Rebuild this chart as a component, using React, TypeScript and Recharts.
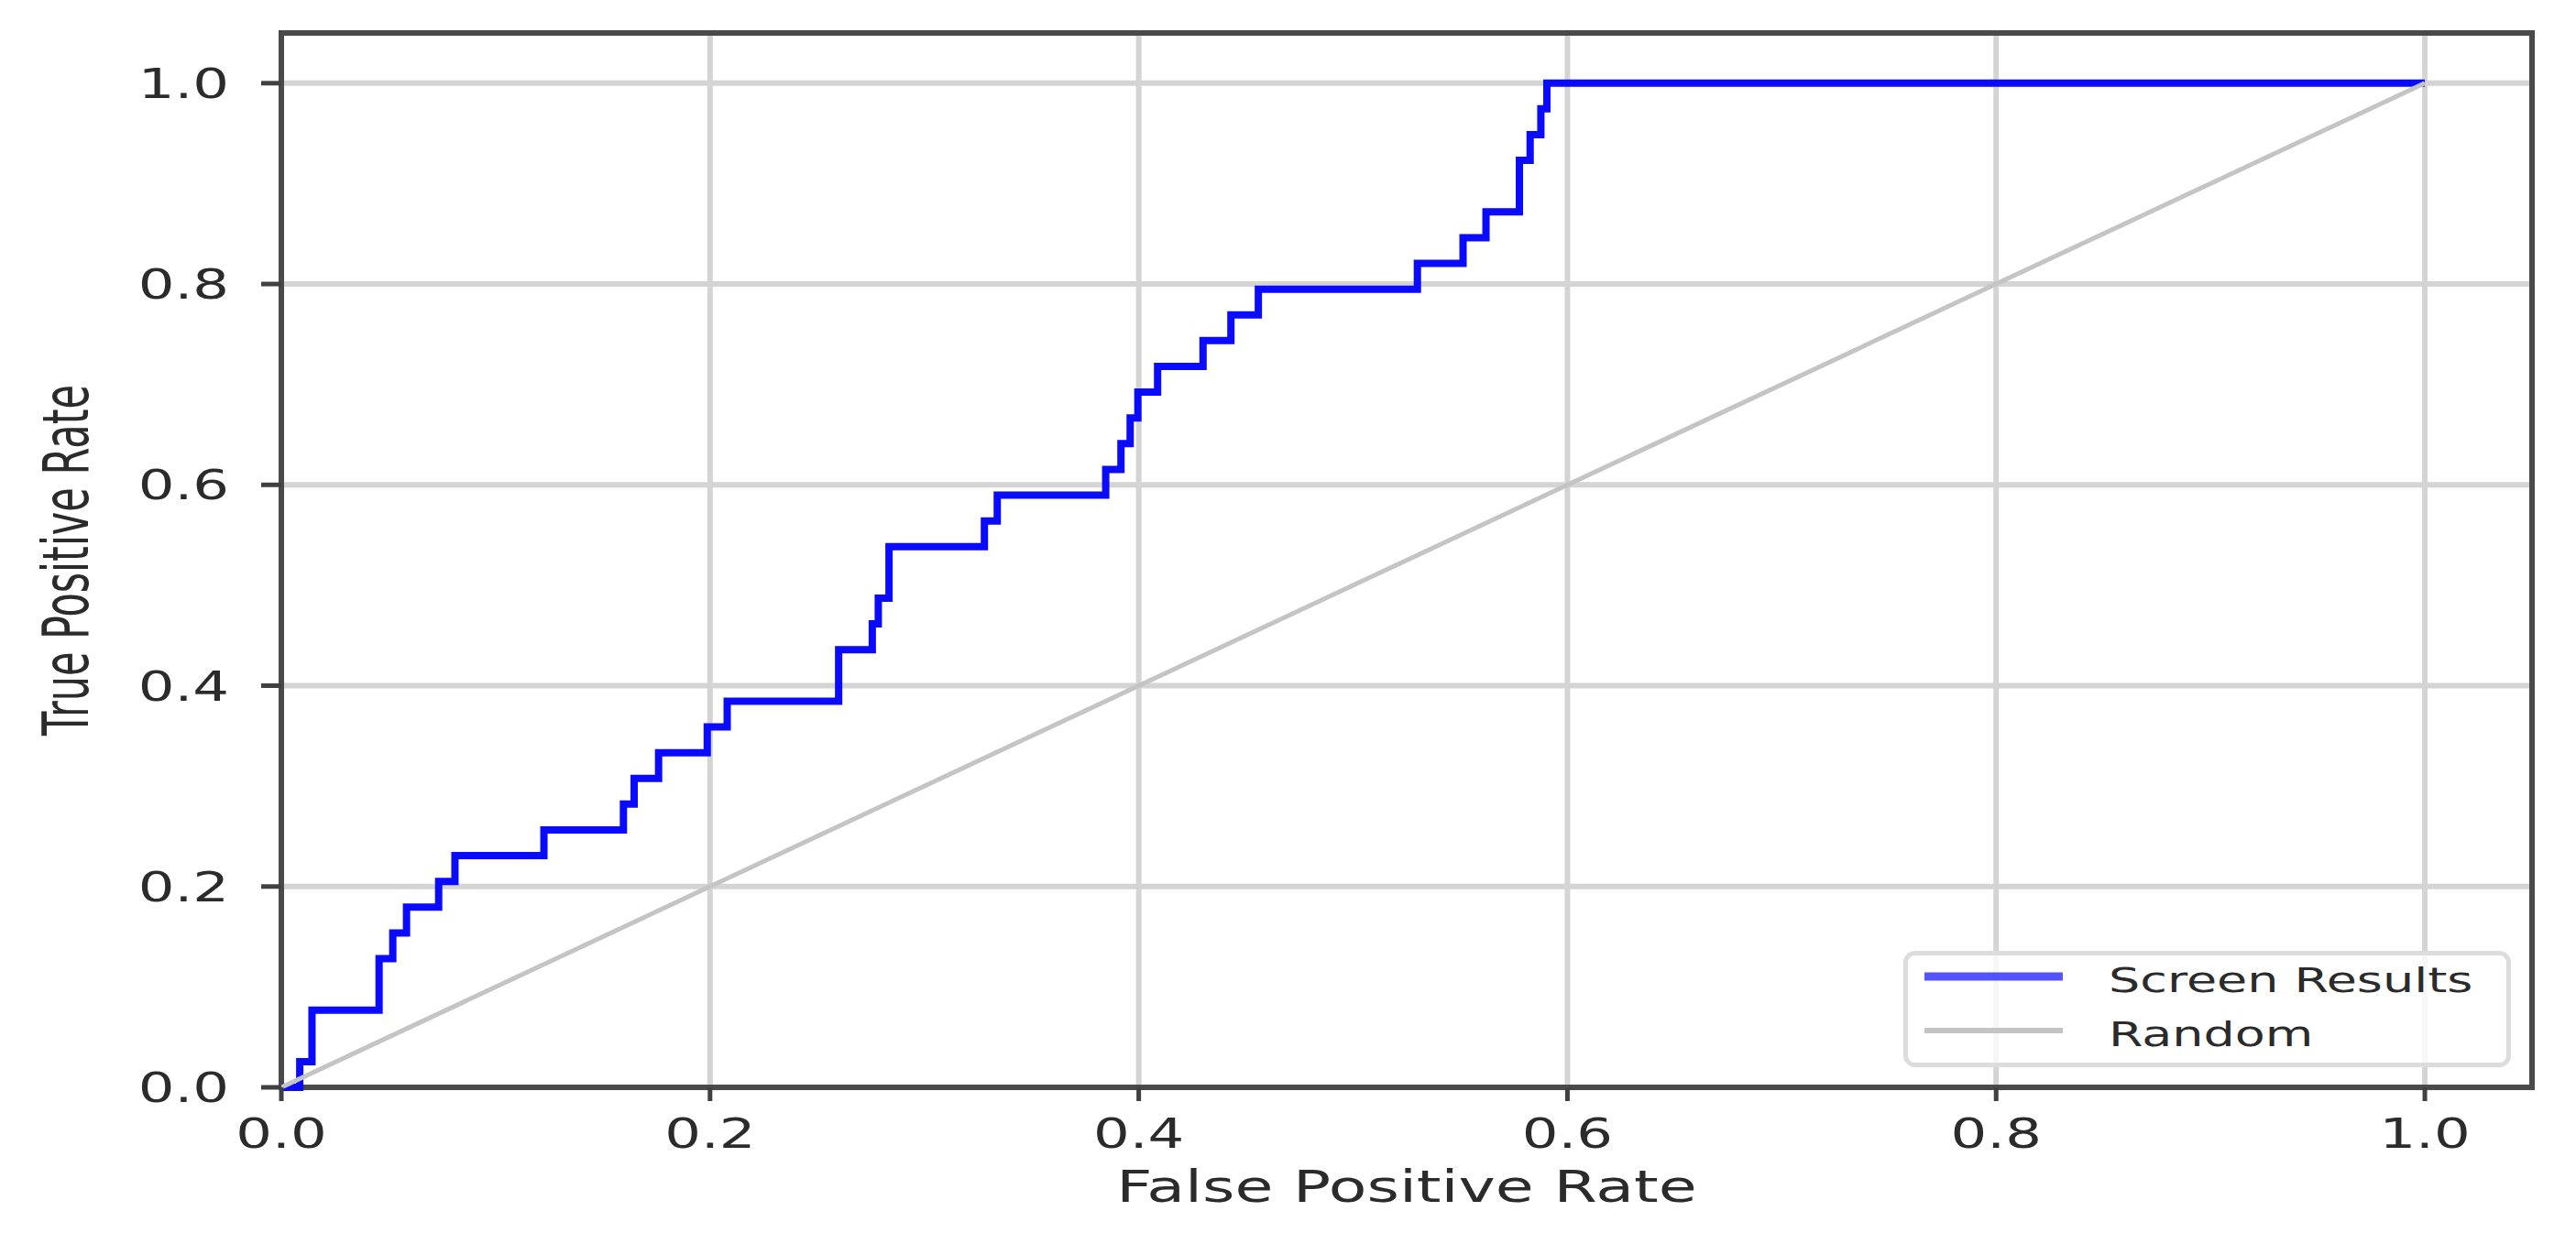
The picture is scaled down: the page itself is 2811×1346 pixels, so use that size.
import {
  CartesianGrid,
  Legend,
  Line,
  LineChart,
  ReferenceArea,
  XAxis,
  YAxis,
} from "recharts";

// ROC curve vertices (false positive rate / true positive rate)
const fprValues = [
  0, 0.0086, 0.0086, 0.0143, 0.0143, 0.0456, 0.0456, 0.052, 0.052, 0.0584,
  0.0584, 0.0734, 0.0734, 0.081, 0.081, 0.1225, 0.1225, 0.1596, 0.1596,
  0.1646, 0.1646, 0.176, 0.176, 0.1987, 0.1987, 0.208, 0.208, 0.26, 0.26,
  0.2757, 0.2757, 0.2785, 0.2785, 0.2835, 0.2835, 0.328, 0.328, 0.334, 0.334,
  0.3846, 0.3846, 0.3917, 0.3917, 0.396, 0.396, 0.3996, 0.3996, 0.4088,
  0.4088, 0.43, 0.43, 0.443, 0.443, 0.4558, 0.4558, 0.53, 0.53, 0.5513,
  0.5513, 0.562, 0.562, 0.5776, 0.5776, 0.5826, 0.5826, 0.5876, 0.5876,
  0.5904, 0.5904, 1.0,
];
const tprValues = [
  0, 0, 0.0256, 0.0256, 0.0769, 0.0769, 0.1282, 0.1282, 0.1538, 0.1538,
  0.1795, 0.1795, 0.2051, 0.2051, 0.2308, 0.2308, 0.2564, 0.2564, 0.2821,
  0.2821, 0.3077, 0.3077, 0.3333, 0.3333, 0.359, 0.359, 0.3846, 0.3846,
  0.4359, 0.4359, 0.4615, 0.4615, 0.4872, 0.4872, 0.5385, 0.5385, 0.5641,
  0.5641, 0.5897, 0.5897, 0.6154, 0.6154, 0.641, 0.641, 0.6667, 0.6667,
  0.6923, 0.6923, 0.7179, 0.7179, 0.7436, 0.7436, 0.7692, 0.7692, 0.7949,
  0.7949, 0.8205, 0.8205, 0.8462, 0.8462, 0.8718, 0.8718, 0.9231, 0.9231,
  0.9487, 0.9487, 0.9744, 0.9744, 1.0, 1.0,
];

// chance diagonal
const randomFpr = [0, 1];
const randomTpr = [0, 1];

const axisTicks = [0, 0.2, 0.4, 0.6, 0.8, 1.0];
const seriesNames = ["Screen Results", "Random"];

const rocData = fprValues.map((fpr, i) => ({ fpr, tpr: tprValues[i] }));
const randomData = randomFpr.map((fpr, i) => ({ fpr, tpr: randomTpr[i] }));

const FONT = "'DejaVu Sans', sans-serif";
const TEXT = "#2b2b2b";
const SX = 1.42; // the picture is stretched sideways
const SPINE = "#4a4a4a";

function XTick(props: any) {
  const { x, y, payload } = props;
  return (
    <text
      transform={`translate(${x},${y + 51}) scale(${SX},1)`}
      textAnchor="middle"
      fontSize={44}
      fontFamily={FONT}
      fill={TEXT}
    >
      {Number(payload.value).toFixed(1)}
    </text>
  );
}

function YTick(props: any) {
  const { x, y, payload } = props;
  return (
    <text
      transform={`translate(${x - 35},${y + 16}) scale(${SX},1)`}
      textAnchor="end"
      fontSize={44}
      fontFamily={FONT}
      fill={TEXT}
    >
      {Number(payload.value).toFixed(1)}
    </text>
  );
}

function XTitle(props: any) {
  const vb = props.viewBox ?? { x: 307, y: 1187, width: 2456, height: 159 };
  return (
    <text
      transform={`translate(${vb.x + vb.width / 2},${vb.y + 125}) scale(${SX},1)`}
      textAnchor="middle"
      fontSize={48}
      fontFamily={FONT}
      fill={TEXT}
    >
      False Positive Rate
    </text>
  );
}

function YTitle(props: any) {
  const vb = props.viewBox ?? { x: 0, y: 36, width: 307, height: 1151 };
  return (
    <text
      transform={`translate(72,${vb.y + vb.height / 2}) scale(1.6,1) rotate(-90)`}
      textAnchor="middle"
      dy={15}
      fontSize={43}
      fontFamily={FONT}
      fill={TEXT}
    >
      True Positive Rate
    </text>
  );
}

function LegendBox(props: any) {
  const items = [...(props.payload ?? [])].sort(
    (a: any, b: any) => seriesNames.indexOf(a.value) - seriesNames.indexOf(b.value),
  );
  return (
    <svg width={663} height={127} style={{ display: "block" }}>
      <rect
        x={2.5}
        y={2.5}
        width={658}
        height={122}
        rx={10}
        fill="#ffffff"
        fillOpacity={0.8}
        stroke="#dcdcdc"
        strokeWidth={5}
      />
      {items.map((item: any, i: number) => {
        const cy = 28 + i * 59;
        return (
          <g key={item.value}>
            <line
              x1={23}
              x2={174}
              y1={cy}
              y2={cy}
              stroke={item.color}
              strokeWidth={i === 0 ? 9 : 6}
              strokeOpacity={i === 0 ? 0.7 : 1}
            />
            <text
              transform={`translate(224,${cy + 17}) scale(${SX},1)`}
              fontSize={38}
              fontFamily={FONT}
              fill={TEXT}
            >
              {item.value}
            </text>
          </g>
        );
      })}
    </svg>
  );
}

export default function App() {
  return (
    <div
      style={{
        position: "absolute",
        left: 0,
        top: 0,
        width: 2811,
        height: 1346,
        background: "#ffffff",
      }}
    >
      <LineChart
        width={2811}
        height={1346}
        margin={{ top: 36, right: 48, bottom: 0, left: 0 }}
      >
        <CartesianGrid stroke="#d4d4d4" strokeWidth={6} />
        <XAxis
          type="number"
          dataKey="fpr"
          domain={[0, 1.05]}
          ticks={axisTicks}
          height={159}
          axisLine={false}
          tickLine={{ stroke: "#404040", strokeWidth: 5 }}
          tickSize={15}
          tickMargin={0}
          tick={<XTick />}
          label={<XTitle />}
        />
        <YAxis
          type="number"
          dataKey="tpr"
          domain={[0, 1.05]}
          ticks={axisTicks}
          width={307}
          axisLine={false}
          tickLine={{ stroke: "#404040", strokeWidth: 5 }}
          tickSize={22}
          tickMargin={0}
          tick={<YTick />}
          label={<YTitle />}
        />
        <Line
          data={rocData}
          dataKey="tpr"
          name={seriesNames[0]}
          type="linear"
          stroke="#0a0aff"
          strokeWidth={8}
          dot={false}
          activeDot={false}
          isAnimationActive={false}
        />
        <Line
          data={randomData}
          dataKey="tpr"
          name={seriesNames[1]}
          type="linear"
          stroke="#c4c4c4"
          strokeWidth={5}
          dot={false}
          activeDot={false}
          isAnimationActive={false}
        />
        <ReferenceArea
          x1={0}
          x2={1.05}
          y1={0}
          y2={1.05}
          fill="none"
          fillOpacity={0}
          stroke={SPINE}
          strokeWidth={6}
        />
        <Legend
          layout="vertical"
          align="center"
          verticalAlign="middle"
          content={<LegendBox />}
          wrapperStyle={{ left: 2077, top: 1038, width: 663, height: 127 }}
        />
      </LineChart>
    </div>
  );
}
